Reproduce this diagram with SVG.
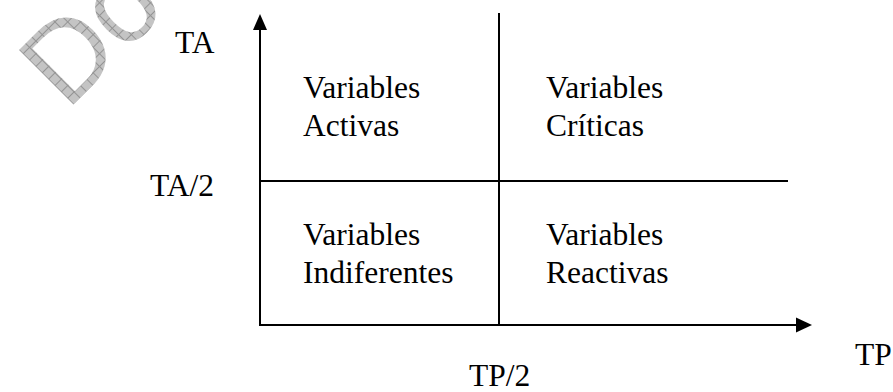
<svg xmlns="http://www.w3.org/2000/svg" width="893" height="392" viewBox="0 0 893 392">
  <style>
    .lbl { font-family: "Liberation Serif", "Times New Roman", serif; font-size: 31.5px; fill: #000; }
    .ln { stroke: #000; stroke-width: 2; fill: none; }
    .wm { font-family: "Liberation Sans", Arial, sans-serif; font-size: 112px; fill: url(#hatch); }
  </style>
  <defs>
    <pattern id="hatch" patternUnits="userSpaceOnUse" width="9" height="9">
      <rect width="9" height="9" fill="#c4c4c4"/>
      <path d="M0 0.5H9M0.5 0V9" stroke="#949494" stroke-width="1"/>
    </pattern>
  </defs>
  <rect width="893" height="392" fill="#fff"/>

  <text class="wm" transform="translate(67,111) rotate(-45)">Do</text>

  <g id="connectors">
    <line class="ln" x1="260" y1="326" x2="260" y2="29"/>
    <path d="M260 14L267 30L253 30Z" fill="#000"/>
    <line class="ln" x1="259" y1="325" x2="797" y2="325"/>
    <path d="M812 325L796 317.5L796 332.5Z" fill="#000"/>
    <line class="ln" x1="499" y1="13" x2="499" y2="325"/>
    <line class="ln" x1="260" y1="181" x2="788" y2="181"/>
  </g>

  <g id="axis-labels">
    <text class="lbl" x="175" y="53">TA</text>
    <text class="lbl" x="150" y="196">TA/2</text>
    <text class="lbl" x="855" y="365">TP</text>
    <text class="lbl" x="469" y="386">TP/2</text>
  </g>

  <g id="q-activas">
    <text class="lbl" x="303" y="98">Variables</text>
    <text class="lbl" x="303" y="136">Activas</text>
  </g>
  <g id="q-criticas">
    <text class="lbl" x="546" y="98">Variables</text>
    <text class="lbl" x="546" y="136">Críticas</text>
  </g>
  <g id="q-indiferentes">
    <text class="lbl" x="303" y="245">Variables</text>
    <text class="lbl" x="303" y="283">Indiferentes</text>
  </g>
  <g id="q-reactivas">
    <text class="lbl" x="546" y="245">Variables</text>
    <text class="lbl" x="546" y="283">Reactivas</text>
  </g>
</svg>
